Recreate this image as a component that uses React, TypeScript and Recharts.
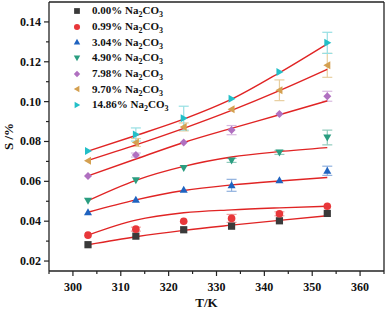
import {
  ComposedChart,
  Scatter,
  Line,
  XAxis,
  YAxis,
  ErrorBar,
  ReferenceLine,
} from 'recharts'

const FONT = "'Liberation Serif', 'Times New Roman', serif"

const T = [303.15, 313.15, 323.15, 333.15, 343.15, 353.15]

// measured solubility, S /%
const s000 = [0.0282, 0.0325, 0.0357, 0.0375, 0.0402, 0.0439]
const s099 = [0.033, 0.036, 0.04, 0.0414, 0.0437, 0.0475]
const s304 = [0.0445, 0.0507, 0.0558, 0.058, 0.0605, 0.0653]
const s490 = [0.0503, 0.0605, 0.0667, 0.0705, 0.0745, 0.082]
const s798 = [0.0627, 0.0732, 0.0795, 0.0857, 0.0938, 0.1027]
const s970 = [0.0703, 0.0795, 0.0873, 0.0962, 0.1057, 0.1182]
const s1486 = [0.0752, 0.0835, 0.0917, 0.1015, 0.1149, 0.1295]

// error bars (null = none drawn)
const e000 = [null, null, null, null, null, null]
const e099 = [null, 0.001, null, 0.002, 0.001, null]
const e304 = [null, null, null, 0.003, null, 0.0023]
const e490 = [null, null, null, 0.001, 0.001, 0.0037]
const e798 = [null, 0.001, null, 0.0023, null, 0.0025]
const e970 = [null, 0.002, 0.002, null, 0.0052, 0.006]
const e1486 = [null, 0.0033, 0.006, null, null, 0.0053]

// fitted curves
const f000 = [0.0282, 0.0322, 0.0354, 0.038, 0.0404, 0.0427]
const f099 = [0.033, 0.0405, 0.0442, 0.0457, 0.0467, 0.0475]
const f304 = [0.0445, 0.0507, 0.0554, 0.0582, 0.0602, 0.0619]
const f490 = [0.0503, 0.0605, 0.0675, 0.0722, 0.0749, 0.0769]
const f798 = [0.0627, 0.0712, 0.0795, 0.0866, 0.0934, 0.1004]
const f970 = [0.0705, 0.0783, 0.0866, 0.0956, 0.1055, 0.1162]
const f1486 = [0.0752, 0.083, 0.0912, 0.1012, 0.1145, 0.129]

const LABELS = ['0.00%', '0.99%', '3.04%', '4.90%', '7.98%', '9.70%', '14.86%']
const COLORS = ['#3a3a3a', '#e8373a', '#1f63c0', '#2a9d80', '#b070c0', '#d4a050', '#22bfc8']
const ERR_COLORS = ['#999', '#f0a0a0', '#8fb0de', '#90cbbc', '#d8b8df', '#e8cfa0', '#96dfe3']
const SHAPES = ['square', 'circle', 'up', 'down', 'diamond', 'left', 'right']

const X_TICKS = [295, 300, 305, 310, 315, 320, 325, 330, 335, 340, 345, 350, 355, 360, 365]
const Y_TICKS = [0.02, 0.03, 0.04, 0.05, 0.06, 0.07, 0.08, 0.09, 0.1, 0.11, 0.12, 0.13, 0.14]

const FIT_COLOR = '#e02424'

const values = [s000, s099, s304, s490, s798, s970, s1486]
const errors = [e000, e099, e304, e490, e798, e970, e1486]
const fits = [f000, f099, f304, f490, f798, f970, f1486]

const series = LABELS.map((label, i) => ({
  label,
  color: COLORS[i],
  errColor: ERR_COLORS[i],
  shape: SHAPES[i],
  points: T.map((t, k) => ({ T: t, S: values[i][k], err: errors[i][k] })),
  fit: T.map((t, k) => ({ T: t, S: fits[i][k] })),
}))

function Marker({ cx, cy, kind, color, r = 4 }: { cx: number; cy: number; kind: string; color: string; r?: number }) {
  if (kind === 'square') return <rect x={cx - r * 0.9} y={cy - r * 0.9} width={r * 1.8} height={r * 1.8} fill={color} />
  if (kind === 'circle') return <circle cx={cx} cy={cy} r={r * 0.95} fill={color} />
  if (kind === 'diamond')
    return <polygon points={`${cx},${cy - r} ${cx + r},${cy} ${cx},${cy + r} ${cx - r},${cy}`} fill={color} />
  const rot = { up: 0, right: 90, down: 180, left: 270 }[kind] ?? 0
  return (
    <polygon
      points={`${cx},${cy - r} ${cx + r},${cy + r * 0.75} ${cx - r},${cy + r * 0.75}`}
      fill={color}
      transform={`rotate(${rot} ${cx} ${cy})`}
    />
  )
}

function XTick({ x, y, payload }: any) {
  const v = payload.value
  const major = v % 10 === 0
  return (
    <g>
      <line x1={x} x2={x} y1={y} y2={y + (major ? 5 : 3)} stroke="#222" strokeWidth={1.2} />
      {major && v >= 300 && v <= 360 && (
        <text x={x} y={y + 20} textAnchor="middle" fontFamily={FONT} fontWeight="bold" fontSize={12} fill="#111">
          {v}
        </text>
      )}
    </g>
  )
}

function YTick({ x, y, payload }: any) {
  const v = payload.value
  const major = Math.round(v * 100) % 2 === 0
  return (
    <g>
      <line x1={x} x2={x - (major ? 5 : 3)} y1={y} y2={y} stroke="#222" strokeWidth={1.2} />
      {major && (
        <text x={x - 8} y={y + 4} textAnchor="end" fontFamily={FONT} fontWeight="bold" fontSize={12} fill="#111">
          {v.toFixed(2)}
        </text>
      )}
    </g>
  )
}

function YLabel({ viewBox }: any) {
  const cy = viewBox.y + viewBox.height / 2
  return (
    <text
      transform={`translate(13, ${cy}) rotate(-90)`}
      textAnchor="middle"
      fontFamily={FONT}
      fontWeight="bold"
      fontSize={13}
      fill="#111"
    >
      S /%
    </text>
  )
}

function LegendBox() {
  return (
    <div
      style={{
        position: 'absolute',
        left: 72,
        top: 3,
        fontFamily: FONT,
        fontWeight: 'bold',
        fontSize: 11,
        color: '#111',
        lineHeight: 1,
      }}
    >
      {series.map((s) => (
        <div key={s.label} style={{ display: 'flex', alignItems: 'center', height: 15.7, whiteSpace: 'nowrap' }}>
          <svg width={10} height={10} style={{ marginRight: 10 }}>
            <Marker cx={5} cy={5} kind={s.shape} color={s.color} r={3.2} />
          </svg>
          <span>
            {s.label} Na<sub style={{ fontSize: 8, lineHeight: 0 }}>2</sub>CO<sub style={{ fontSize: 8, lineHeight: 0 }}>3</sub>
          </span>
        </div>
      ))}
    </div>
  )
}

export default function App() {
  return (
    <div style={{ position: 'absolute', left: 0, top: 0, width: 387, height: 309, background: '#fff' }}>
      <ComposedChart width={387} height={309} margin={{ top: 2, right: 3, left: 0, bottom: 0 }}>
        <XAxis
          type="number"
          dataKey="T"
          domain={[295, 365]}
          ticks={X_TICKS}
          interval={0}
          height={38}
          tickSize={0}
          tickMargin={0}
          tick={<XTick />}
          axisLine={{ stroke: '#222', strokeWidth: 1.3 }}
          tickLine={false}
          label={{
            value: 'T/K',
            position: 'insideBottom',
            offset: 2,
            dx: -10,
            style: { fontFamily: FONT, fontWeight: 'bold', fontSize: 13, fill: '#111' },
          }}
        />
        <YAxis
          type="number"
          dataKey="S"
          domain={[0.015, 0.15]}
          ticks={Y_TICKS}
          interval={0}
          width={49}
          tickSize={0}
          tickMargin={0}
          tick={<YTick />}
          axisLine={{ stroke: '#222', strokeWidth: 1.3 }}
          tickLine={false}
          label={{ content: (p: any) => <YLabel viewBox={p.viewBox} /> }}
        />
        <ReferenceLine y={0.15} stroke="#222" strokeWidth={1.3} />
        <ReferenceLine x={365} stroke="#222" strokeWidth={1.3} />
        {series.map((s) => (
          <Scatter
            key={s.label}
            name={s.label}
            data={s.points}
            dataKey="S"
            fill={s.color}
            isAnimationActive={false}
            shape={(p: any) => <Marker cx={p.cx} cy={p.cy} kind={s.shape} color={s.color} />}
          >
            <ErrorBar dataKey="err" direction="y" width={5} stroke={s.errColor} strokeWidth={1.2} />
          </Scatter>
        ))}
        {series.map((s) => (
          <Line
            key={'fit' + s.label}
            data={s.fit}
            dataKey="S"
            type="monotone"
            stroke={FIT_COLOR}
            strokeWidth={1.4}
            dot={false}
            activeDot={false}
            legendType="none"
            isAnimationActive={false}
          />
        ))}
      </ComposedChart>
      <LegendBox />
    </div>
  )
}
